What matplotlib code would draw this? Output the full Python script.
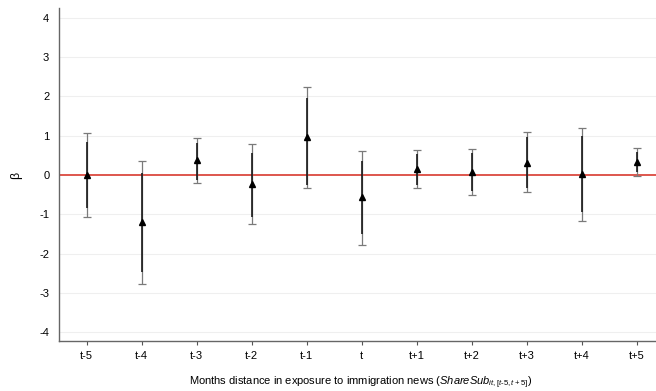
import numpy as np
import matplotlib.pyplot as plt

plt.rcParams['font.family'] = ['Liberation Sans', 'DejaVu Sans']
plt.rcParams['mathtext.fontset'] = 'custom'
plt.rcParams['mathtext.rm'] = 'Liberation Sans'
plt.rcParams['mathtext.it'] = 'Liberation Sans:italic'
plt.rcParams['axes.unicode_minus'] = False

# months relative to exposure
labels = ['t-5', 't-4', 't-3', 't-2', 't-1', 't', 't+1', 't+2', 't+3', 't+4', 't+5']
beta = [0.00, -1.20, 0.38, -0.23, 0.96, -0.56, 0.16, 0.08, 0.32, 0.03, 0.34]
# outer (95%) interval, drawn grey with caps
ci95_low = [-1.06, -2.77, -0.20, -1.25, -0.33, -1.78, -0.34, -0.51, -0.44, -1.16, -0.02]
ci95_high = [1.06, 0.35, 0.95, 0.79, 2.23, 0.62, 0.63, 0.67, 1.09, 1.21, 0.69]
# inner (90%) interval, drawn black
ci90_low = [-0.84, -2.46, -0.13, -1.06, -0.25, -1.50, -0.25, -0.40, -0.32, -0.95, 0.09]
ci90_high = [0.85, 0.05, 0.82, 0.57, 1.95, 0.36, 0.53, 0.56, 0.96, 0.99, 0.59]

x = np.arange(len(labels))
beta = np.array(beta)

fig = plt.figure(figsize=(6.56, 3.91), dpi=100)
ax = fig.add_axes([59 / 656, (391 - 341) / 391, 605 / 656, 333 / 391])

ax.set_ylim(-4.22, 4.25)
ax.set_xlim(-0.5, 10.5)

for v in [-4, -3, -2, -1, 1, 2, 3, 4]:
    ax.axhline(v, color='#efefef', lw=0.8, zorder=0)
ax.axhline(0, color='#d8392f', lw=1.2, zorder=1)

ax.errorbar(x, beta, yerr=[beta - np.array(ci95_low), np.array(ci95_high) - beta],
            fmt='none', ecolor='#7a7a7a', elinewidth=0.9, capsize=3, capthick=0.9, zorder=2)
ax.vlines(x, ci90_low, ci90_high, color='#1a1a1a', lw=1.2, zorder=3)
ax.plot(x, beta, '^', color='black', ms=4.5, zorder=4)

ax.set_xticks(x)
ax.set_xticklabels(labels)
ax.set_yticks(range(-4, 5))
ax.tick_params(axis='x', length=3, color='#555555', labelsize=8, pad=4)
ax.tick_params(axis='y', length=0, labelsize=8, pad=7)

for s in ['top', 'right']:
    ax.spines[s].set_visible(False)
for s in ['left', 'bottom']:
    ax.spines[s].set_color('#666666')
    ax.spines[s].set_linewidth(1.0)

ax.set_ylabel('\u03b2', fontsize=9, labelpad=14)
ax.yaxis.set_label_coords(-(59 - 22) / 605, (341 - 175) / 333)
ax.set_xlabel(r'Months distance in exposure to immigration news ($\mathit{ShareSub}_{\mathit{it},[t\text{-}5,t+5]}$)',
              fontsize=8)
ax.xaxis.set_label_coords((361 - 59) / 605, -(375 - 341) / 333)

fig.savefig('out.png', dpi=100)
